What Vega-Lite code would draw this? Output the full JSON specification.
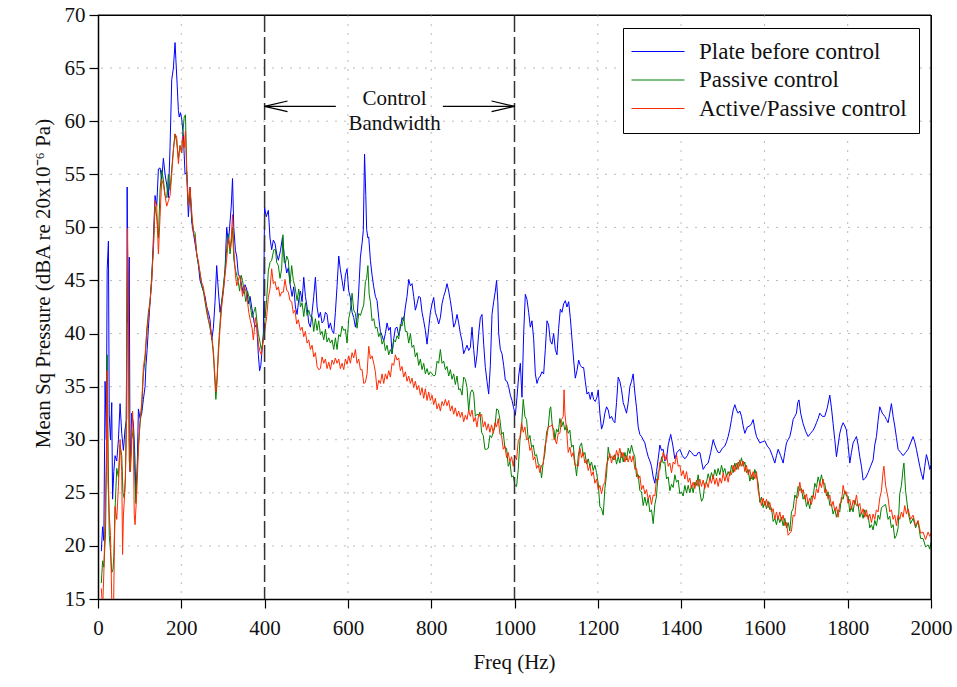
{
"$schema": "https://vega.github.io/schema/vega-lite/v6.json",
"width": 833, "height": 584,
"autosize": "none",
"padding": {"left": 98, "top": 15, "right": 26, "bottom": 88},
"background": "white",
"config": {"view": {"stroke": "black", "strokeWidth": 1}, "font": "Liberation Serif"},
"datasets": {
"blue": [{"f":8,"v":19.5},{"f":11,"v":21.8},{"f":14,"v":20.5},{"f":17,"v":35.5},{"f":20,"v":30},{"f":22,"v":46},{"f":25,"v":48.7},{"f":27,"v":32.4},{"f":30,"v":30},{"f":33,"v":33.5},{"f":35,"v":24.4},{"f":38,"v":27},{"f":41,"v":28.5},{"f":45,"v":28},{"f":49,"v":30},{"f":53,"v":33.4},{"f":57,"v":30.6},{"f":61,"v":29},{"f":65,"v":31},{"f":69,"v":32},{"f":70,"v":53.8},{"f":72,"v":41},{"f":75,"v":47.2},{"f":77,"v":27},{"f":81,"v":32.5},{"f":85,"v":31.5},{"f":88,"v":29},{"f":91,"v":25},{"f":94,"v":27},{"f":97,"v":32.9},{"f":101,"v":32},{"f":105,"v":32.5},{"f":109,"v":33.8},{"f":113,"v":35},{"f":115,"v":36.9},{"f":118,"v":38.5},{"f":121,"v":40.5},{"f":125,"v":43},{"f":129,"v":45},{"f":133,"v":49},{"f":137,"v":53},{"f":141,"v":52},{"f":145,"v":55.5},{"f":149,"v":55.6},{"f":153,"v":54.5},{"f":157,"v":56.5},{"f":161,"v":55},{"f":165,"v":54},{"f":169,"v":52.8},{"f":173,"v":57.6},{"f":177,"v":63.9},{"f":181,"v":65},{"f":185,"v":67.4},{"f":187,"v":65.8},{"f":190,"v":63.5},{"f":193,"v":61},{"f":195,"v":60.4},{"f":198,"v":60.8},{"f":201,"v":60.2},{"f":205,"v":58.6},{"f":209,"v":55},{"f":213,"v":55.2},{"f":217,"v":51},{"f":221,"v":53.8},{"f":225,"v":50.5},{"f":229,"v":49.5},{"f":233,"v":48.5},{"f":237,"v":47.5},{"f":241,"v":46.5},{"f":245,"v":45},{"f":249,"v":44.5},{"f":253,"v":44},{"f":257,"v":43.5},{"f":261,"v":42.5},{"f":265,"v":42},{"f":269,"v":41.3},{"f":273,"v":39.4},{"f":277,"v":40.5},{"f":281,"v":43},{"f":285,"v":46.4},{"f":289,"v":44},{"f":293,"v":42},{"f":297,"v":43},{"f":301,"v":44},{"f":305,"v":46},{"f":309,"v":50},{"f":313,"v":48.5},{"f":317,"v":50.5},{"f":320,"v":52},{"f":323,"v":54.6},{"f":326,"v":50},{"f":330,"v":47.8},{"f":333,"v":47.3},{"f":337,"v":45.5},{"f":341,"v":45.4},{"f":345,"v":44.5},{"f":349,"v":43.8},{"f":353,"v":44.6},{"f":357,"v":44.2},{"f":361,"v":42.8},{"f":365,"v":43.5},{"f":369,"v":42.5},{"f":373,"v":41.5},{"f":377,"v":40.6},{"f":381,"v":40.9},{"f":385,"v":38},{"f":388,"v":36.5},{"f":391,"v":37},{"f":394,"v":38.5},{"f":397,"v":40},{"f":400,"v":51.9},{"f":404,"v":51},{"f":409,"v":51.6},{"f":413,"v":49},{"f":417,"v":47.9},{"f":421,"v":48.8},{"f":425,"v":48.5},{"f":429,"v":47.5},{"f":433,"v":46.9},{"f":438,"v":47.8},{"f":443,"v":49.1},{"f":448,"v":47},{"f":453,"v":45.7},{"f":457,"v":46.2},{"f":461,"v":44.7},{"f":466,"v":43.5},{"f":470,"v":44.4},{"f":474,"v":42.5},{"f":478,"v":41.8},{"f":482,"v":43.2},{"f":486,"v":44},{"f":490,"v":43},{"f":494,"v":45.3},{"f":498,"v":43.5},{"f":502,"v":42.5},{"f":506,"v":41},{"f":510,"v":40.6},{"f":514,"v":42},{"f":518,"v":43.5},{"f":522,"v":45.3},{"f":526,"v":42.5},{"f":530,"v":41.5},{"f":534,"v":42},{"f":538,"v":41},{"f":542,"v":41.2},{"f":546,"v":42},{"f":550,"v":41.8},{"f":554,"v":40.5},{"f":558,"v":41},{"f":562,"v":40.3},{"f":566,"v":40},{"f":570,"v":42},{"f":574,"v":44.5},{"f":578,"v":47.3},{"f":582,"v":46},{"f":586,"v":45},{"f":590,"v":44},{"f":594,"v":45.5},{"f":598,"v":46.1},{"f":602,"v":44},{"f":606,"v":43.4},{"f":610,"v":42},{"f":614,"v":41.5},{"f":618,"v":40.6},{"f":622,"v":41.5},{"f":626,"v":44},{"f":630,"v":47.2},{"f":634,"v":48.5},{"f":637,"v":49.7},{"f":640,"v":56.9},{"f":643,"v":53},{"f":645,"v":49.8},{"f":648,"v":49},{"f":650,"v":49.1},{"f":654,"v":46.9},{"f":658,"v":45.5},{"f":662,"v":44.4},{"f":666,"v":43.5},{"f":670,"v":43.1},{"f":674,"v":41.5},{"f":678,"v":40.2},{"f":682,"v":39.8},{"f":686,"v":39.3},{"f":690,"v":40},{"f":694,"v":41},{"f":698,"v":40.3},{"f":702,"v":40.6},{"f":706,"v":38.1},{"f":710,"v":39.5},{"f":714,"v":40.5},{"f":718,"v":40.6},{"f":722,"v":39.8},{"f":726,"v":40.5},{"f":730,"v":41.5},{"f":734,"v":41.2},{"f":738,"v":42.5},{"f":742,"v":43.5},{"f":746,"v":45.1},{"f":750,"v":44.5},{"f":754,"v":44.7},{"f":758,"v":43.5},{"f":762,"v":42.2},{"f":766,"v":42.8},{"f":770,"v":43.5},{"f":774,"v":43.4},{"f":778,"v":42},{"f":782,"v":41.2},{"f":786,"v":40.3},{"f":790,"v":39},{"f":794,"v":40.5},{"f":798,"v":42},{"f":802,"v":42.8},{"f":806,"v":43.4},{"f":810,"v":42},{"f":814,"v":41.5},{"f":818,"v":40.9},{"f":822,"v":41.5},{"f":826,"v":42.8},{"f":830,"v":43.5},{"f":834,"v":44},{"f":838,"v":44.7},{"f":842,"v":44},{"f":846,"v":43.1},{"f":850,"v":42},{"f":854,"v":40.6},{"f":858,"v":41},{"f":862,"v":41.8},{"f":866,"v":41},{"f":870,"v":40},{"f":874,"v":39.3},{"f":878,"v":38.1},{"f":882,"v":38.5},{"f":886,"v":38.9},{"f":890,"v":38.4},{"f":894,"v":38.7},{"f":898,"v":40.6},{"f":902,"v":38.5},{"f":906,"v":36.8},{"f":910,"v":38},{"f":914,"v":40},{"f":918,"v":41.5},{"f":922,"v":41.8},{"f":926,"v":39},{"f":930,"v":36.8},{"f":934,"v":35.5},{"f":938,"v":34.3},{"f":942,"v":37},{"f":946,"v":41.8},{"f":950,"v":43},{"f":954,"v":44},{"f":957,"v":45},{"f":960,"v":43},{"f":962,"v":40},{"f":966,"v":38.5},{"f":970,"v":38.1},{"f":974,"v":37},{"f":978,"v":35.6},{"f":982,"v":35.5},{"f":986,"v":35},{"f":990,"v":34.2},{"f":994,"v":33.7},{"f":998,"v":33},{"f":1002,"v":32.3},{"f":1006,"v":34},{"f":1010,"v":36},{"f":1014,"v":37.2},{"f":1018,"v":34},{"f":1022,"v":40},{"f":1026,"v":43.7},{"f":1030,"v":43.2},{"f":1034,"v":42},{"f":1038,"v":40.6},{"f":1042,"v":41.2},{"f":1046,"v":39.5},{"f":1050,"v":36.2},{"f":1054,"v":35.3},{"f":1058,"v":35.8},{"f":1062,"v":36},{"f":1066,"v":36.4},{"f":1070,"v":36.2},{"f":1074,"v":38.5},{"f":1078,"v":41.2},{"f":1082,"v":40.8},{"f":1086,"v":39.3},{"f":1090,"v":39},{"f":1094,"v":40},{"f":1098,"v":38.5},{"f":1102,"v":38},{"f":1106,"v":40.5},{"f":1110,"v":42.3},{"f":1114,"v":42},{"f":1118,"v":42.8},{"f":1122,"v":43.1},{"f":1126,"v":42.5},{"f":1130,"v":43},{"f":1134,"v":41.5},{"f":1138,"v":39.5},{"f":1142,"v":37.5},{"f":1146,"v":35.8},{"f":1150,"v":36.5},{"f":1154,"v":37.5},{"f":1158,"v":37},{"f":1162,"v":36.8},{"f":1166,"v":36.8},{"f":1170,"v":35.5},{"f":1174,"v":34.3},{"f":1178,"v":34.5},{"f":1182,"v":33.8},{"f":1186,"v":34.5},{"f":1190,"v":33.8},{"f":1194,"v":33.6},{"f":1198,"v":34},{"f":1201,"v":34.7},{"f":1205,"v":32.5},{"f":1209,"v":31},{"f":1213,"v":31.5},{"f":1217,"v":32.5},{"f":1221,"v":33.1},{"f":1225,"v":32.8},{"f":1229,"v":32},{"f":1233,"v":32.2},{"f":1237,"v":31.8},{"f":1241,"v":31.6},{"f":1245,"v":33.5},{"f":1249,"v":35.9},{"f":1253,"v":35.5},{"f":1257,"v":34.7},{"f":1261,"v":33.5},{"f":1265,"v":33},{"f":1269,"v":32.5},{"f":1273,"v":33.5},{"f":1277,"v":35},{"f":1281,"v":35.5},{"f":1285,"v":36.2},{"f":1289,"v":34.4},{"f":1293,"v":33},{"f":1297,"v":31.2},{"f":1301,"v":30.5},{"f":1305,"v":30.3},{"f":1309,"v":30},{"f":1313,"v":29.7},{"f":1317,"v":29},{"f":1321,"v":28.4},{"f":1325,"v":28},{"f":1329,"v":27.5},{"f":1333,"v":26.5},{"f":1337,"v":25.9},{"f":1341,"v":27},{"f":1345,"v":28.2},{"f":1349,"v":29.5},{"f":1353,"v":29},{"f":1357,"v":29.1},{"f":1361,"v":28},{"f":1365,"v":28.2},{"f":1369,"v":29.5},{"f":1375,"v":30.5},{"f":1380,"v":29.5},{"f":1385,"v":28.2},{"f":1390,"v":28.8},{"f":1397,"v":29.1},{"f":1403,"v":28.5},{"f":1409,"v":28.2},{"f":1415,"v":28.5},{"f":1420,"v":29},{"f":1425,"v":28.8},{"f":1431,"v":28.5},{"f":1437,"v":28.5},{"f":1441,"v":28.8},{"f":1445,"v":28.8},{"f":1449,"v":28},{"f":1453,"v":27.2},{"f":1459,"v":27.6},{"f":1465,"v":27.8},{"f":1471,"v":28.8},{"f":1477,"v":30},{"f":1481,"v":29.5},{"f":1485,"v":29.1},{"f":1489,"v":28.8},{"f":1493,"v":28.8},{"f":1499,"v":29.2},{"f":1505,"v":29.4},{"f":1509,"v":29.8},{"f":1513,"v":30.3},{"f":1517,"v":31},{"f":1521,"v":31.9},{"f":1525,"v":32.8},{"f":1529,"v":33.3},{"f":1533,"v":32.8},{"f":1537,"v":32.5},{"f":1541,"v":32.7},{"f":1545,"v":32.2},{"f":1549,"v":31.3},{"f":1553,"v":30.6},{"f":1559,"v":31.2},{"f":1565,"v":31.3},{"f":1569,"v":31.5},{"f":1573,"v":31.9},{"f":1577,"v":31},{"f":1581,"v":30.3},{"f":1585,"v":30},{"f":1589,"v":29.7},{"f":1595,"v":29.8},{"f":1601,"v":29.9},{"f":1607,"v":29.4},{"f":1613,"v":29.1},{"f":1619,"v":28.5},{"f":1625,"v":27.8},{"f":1629,"v":28.5},{"f":1633,"v":29.1},{"f":1639,"v":28.5},{"f":1645,"v":27.8},{"f":1649,"v":28.8},{"f":1653,"v":29.7},{"f":1657,"v":30},{"f":1661,"v":30.3},{"f":1665,"v":31},{"f":1669,"v":31.9},{"f":1673,"v":32.2},{"f":1677,"v":32.5},{"f":1680,"v":33.5},{"f":1683,"v":33.75},{"f":1687,"v":32.5},{"f":1693,"v":31.5},{"f":1699,"v":30.8},{"f":1705,"v":30.3},{"f":1711,"v":30.6},{"f":1717,"v":30.9},{"f":1721,"v":31.2},{"f":1725,"v":31.6},{"f":1729,"v":32},{"f":1733,"v":32.5},{"f":1739,"v":32.2},{"f":1745,"v":32.2},{"f":1751,"v":33},{"f":1757,"v":34.2},{"f":1761,"v":33},{"f":1765,"v":31.5},{"f":1769,"v":30},{"f":1773,"v":28.4},{"f":1777,"v":29.5},{"f":1781,"v":30.6},{"f":1785,"v":31.2},{"f":1789,"v":31.6},{"f":1793,"v":31.3},{"f":1797,"v":30.9},{"f":1801,"v":29.5},{"f":1805,"v":27.8},{"f":1809,"v":28.8},{"f":1813,"v":29.7},{"f":1817,"v":30},{"f":1821,"v":30.3},{"f":1825,"v":29.5},{"f":1829,"v":28.4},{"f":1833,"v":27.5},{"f":1837,"v":26.2},{"f":1843,"v":26.4},{"f":1849,"v":26.9},{"f":1855,"v":27.5},{"f":1861,"v":28.1},{"f":1865,"v":29.5},{"f":1869,"v":30.3},{"f":1873,"v":31.8},{"f":1877,"v":33.1},{"f":1883,"v":32.5},{"f":1889,"v":32.2},{"f":1893,"v":31.9},{"f":1897,"v":31.6},{"f":1901,"v":32.5},{"f":1905,"v":33.4},{"f":1909,"v":32.2},{"f":1913,"v":31.3},{"f":1917,"v":30.2},{"f":1921,"v":29.1},{"f":1927,"v":28.8},{"f":1933,"v":28.5},{"f":1939,"v":28.8},{"f":1945,"v":29.1},{"f":1951,"v":29.7},{"f":1957,"v":30.3},{"f":1961,"v":29.8},{"f":1965,"v":29.1},{"f":1969,"v":28.3},{"f":1973,"v":27.5},{"f":1977,"v":26.8},{"f":1981,"v":26.25},{"f":1985,"v":27.5},{"f":1989,"v":28.6},{"f":1993,"v":28},{"f":1997,"v":27.2},{"f":2000,"v":27.6}],
"green": [{"f":8,"v":16.5},{"f":11,"v":18.6},{"f":14,"v":18},{"f":18,"v":21.1},{"f":20,"v":27},{"f":22,"v":38},{"f":24,"v":30},{"f":27,"v":21},{"f":30,"v":19.5},{"f":33,"v":17.5},{"f":36,"v":17.8},{"f":38,"v":19},{"f":41,"v":23.5},{"f":45,"v":27.3},{"f":49,"v":26.5},{"f":53,"v":29.5},{"f":57,"v":28.5},{"f":60,"v":25},{"f":63,"v":24.5},{"f":66,"v":26.5},{"f":69,"v":38},{"f":71,"v":47},{"f":73,"v":40},{"f":75,"v":28},{"f":78,"v":27},{"f":81,"v":30},{"f":85,"v":31},{"f":88,"v":27},{"f":91,"v":24},{"f":93,"v":26.5},{"f":97,"v":29.5},{"f":101,"v":31.5},{"f":105,"v":33},{"f":109,"v":36.2},{"f":113,"v":37.5},{"f":117,"v":40.3},{"f":121,"v":42},{"f":125,"v":43},{"f":129,"v":45.5},{"f":133,"v":48},{"f":137,"v":52},{"f":141,"v":51},{"f":145,"v":49},{"f":149,"v":53.5},{"f":153,"v":55.4},{"f":157,"v":54.5},{"f":161,"v":53},{"f":165,"v":52.8},{"f":169,"v":55},{"f":173,"v":53.5},{"f":177,"v":55.5},{"f":181,"v":57.3},{"f":185,"v":58.8},{"f":189,"v":58},{"f":193,"v":56.5},{"f":197,"v":57.7},{"f":201,"v":57},{"f":203,"v":58.6},{"f":207,"v":60.4},{"f":210,"v":60.6},{"f":213,"v":55.5},{"f":217,"v":52},{"f":221,"v":53.5},{"f":225,"v":51},{"f":229,"v":49.7},{"f":233,"v":49.5},{"f":237,"v":47.5},{"f":241,"v":46.5},{"f":245,"v":45.7},{"f":249,"v":44.5},{"f":253,"v":44},{"f":257,"v":43},{"f":261,"v":42},{"f":265,"v":41.3},{"f":269,"v":40.5},{"f":273,"v":39.7},{"f":277,"v":38},{"f":280,"v":36},{"f":283,"v":33.8},{"f":286,"v":35.5},{"f":289,"v":38.5},{"f":293,"v":41},{"f":297,"v":43},{"f":301,"v":44.5},{"f":305,"v":46},{"f":309,"v":48},{"f":313,"v":49.4},{"f":317,"v":47.5},{"f":320,"v":48.5},{"f":323,"v":50},{"f":326,"v":47},{"f":330,"v":46},{"f":333,"v":45.5},{"f":337,"v":44.8},{"f":340,"v":44},{"f":344,"v":45.5},{"f":347,"v":45},{"f":351,"v":44},{"f":355,"v":43},{"f":359,"v":44},{"f":362,"v":43.5},{"f":366,"v":42.5},{"f":370,"v":41.5},{"f":374,"v":42},{"f":378,"v":42.5},{"f":382,"v":41},{"f":385,"v":40},{"f":389,"v":39.2},{"f":392,"v":38.5},{"f":395,"v":39},{"f":398,"v":40},{"f":401,"v":41.4},{"f":405,"v":43.2},{"f":409,"v":45.9},{"f":413,"v":46.7},{"f":417,"v":46.9},{"f":422,"v":47.9},{"f":426,"v":47.9},{"f":429,"v":46.7},{"f":433,"v":46.4},{"f":437,"v":45.2},{"f":441,"v":46.1},{"f":444,"v":49.3},{"f":447,"v":46.7},{"f":450,"v":46.6},{"f":453,"v":47.3},{"f":457,"v":46.9},{"f":461,"v":44.7},{"f":465,"v":46.4},{"f":469,"v":45},{"f":473,"v":44.4},{"f":478,"v":43.1},{"f":482,"v":44.2},{"f":486,"v":42.5},{"f":490,"v":42.9},{"f":494,"v":41.6},{"f":498,"v":42.9},{"f":502,"v":41.7},{"f":506,"v":42.2},{"f":510,"v":41.6},{"f":514,"v":41.6},{"f":518,"v":40.2},{"f":522,"v":41.4},{"f":526,"v":40.3},{"f":530,"v":41.2},{"f":534,"v":39.9},{"f":538,"v":40.2},{"f":542,"v":39.4},{"f":546,"v":40.4},{"f":550,"v":39.2},{"f":554,"v":39.6},{"f":558,"v":39.1},{"f":562,"v":39.4},{"f":566,"v":38.5},{"f":570,"v":39.6},{"f":574,"v":38.5},{"f":578,"v":39.9},{"f":582,"v":39.7},{"f":586,"v":40.7},{"f":590,"v":40.3},{"f":594,"v":40.4},{"f":598,"v":39.1},{"f":602,"v":41.4},{"f":606,"v":42.2},{"f":610,"v":43.8},{"f":614,"v":42.2},{"f":618,"v":41.9},{"f":622,"v":40.5},{"f":626,"v":41.9},{"f":630,"v":41.7},{"f":634,"v":42.2},{"f":638,"v":42.7},{"f":642,"v":44.9},{"f":645,"v":45.2},{"f":648,"v":46.4},{"f":651,"v":43.7},{"f":654,"v":43},{"f":658,"v":41.2},{"f":662,"v":41.4},{"f":666,"v":40.5},{"f":670,"v":40.6},{"f":674,"v":39.7},{"f":678,"v":40.1},{"f":682,"v":39},{"f":686,"v":39.4},{"f":690,"v":38.4},{"f":694,"v":38.9},{"f":698,"v":38},{"f":702,"v":38.5},{"f":706,"v":38.1},{"f":710,"v":39.4},{"f":714,"v":39.2},{"f":718,"v":39.8},{"f":722,"v":39.5},{"f":726,"v":40.9},{"f":730,"v":40.7},{"f":734,"v":41.6},{"f":738,"v":40.2},{"f":742,"v":40.2},{"f":746,"v":39.1},{"f":750,"v":40},{"f":754,"v":38.7},{"f":758,"v":38.9},{"f":762,"v":37.8},{"f":766,"v":38.2},{"f":770,"v":37},{"f":774,"v":37.6},{"f":778,"v":36.6},{"f":782,"v":37.2},{"f":786,"v":36.2},{"f":790,"v":36.7},{"f":794,"v":36.1},{"f":798,"v":36.4},{"f":802,"v":36.2},{"f":806,"v":36},{"f":810,"v":36.1},{"f":814,"v":37.4},{"f":818,"v":37.2},{"f":822,"v":38.5},{"f":826,"v":37.2},{"f":830,"v":37.4},{"f":834,"v":36.6},{"f":838,"v":36.9},{"f":842,"v":36},{"f":846,"v":36.6},{"f":850,"v":35.7},{"f":854,"v":36.2},{"f":858,"v":35.2},{"f":862,"v":36},{"f":866,"v":34.7},{"f":870,"v":34.8},{"f":874,"v":34.2},{"f":878,"v":35.9},{"f":882,"v":35.7},{"f":886,"v":34.9},{"f":890,"v":32.7},{"f":894,"v":34.4},{"f":898,"v":34.7},{"f":902,"v":34.4},{"f":906,"v":32.2},{"f":910,"v":32.4},{"f":914,"v":32.3},{"f":917,"v":32.6},{"f":921,"v":30.7},{"f":925,"v":30.4},{"f":929,"v":29.1},{"f":933,"v":29.1},{"f":937,"v":29.2},{"f":941,"v":30.4},{"f":945,"v":30.2},{"f":949,"v":30.7},{"f":953,"v":31.2},{"f":957,"v":32.9},{"f":961,"v":32.8},{"f":965,"v":31.9},{"f":969,"v":30.5},{"f":973,"v":30.7},{"f":977,"v":29.2},{"f":981,"v":29.2},{"f":985,"v":27.5},{"f":989,"v":27.9},{"f":993,"v":26.5},{"f":997,"v":26.6},{"f":1001,"v":25.7},{"f":1005,"v":25.6},{"f":1009,"v":27.2},{"f":1013,"v":29.9},{"f":1017,"v":31.3},{"f":1021,"v":33.8},{"f":1025,"v":32.2},{"f":1029,"v":31.9},{"f":1033,"v":30},{"f":1037,"v":30.4},{"f":1041,"v":29.3},{"f":1045,"v":29.5},{"f":1049,"v":28.5},{"f":1053,"v":28.6},{"f":1057,"v":27.7},{"f":1061,"v":27.6},{"f":1065,"v":26.4},{"f":1069,"v":27.9},{"f":1073,"v":28.7},{"f":1077,"v":30.7},{"f":1081,"v":31.2},{"f":1085,"v":32.9},{"f":1087,"v":33.1},{"f":1091,"v":31.2},{"f":1095,"v":30.9},{"f":1097,"v":30},{"f":1101,"v":31},{"f":1105,"v":30.7},{"f":1109,"v":32},{"f":1113,"v":31.2},{"f":1117,"v":31.7},{"f":1121,"v":30.9},{"f":1125,"v":31.4},{"f":1129,"v":30.6},{"f":1133,"v":30.9},{"f":1137,"v":29.3},{"f":1141,"v":29.5},{"f":1145,"v":27.9},{"f":1149,"v":26.6},{"f":1153,"v":28.4},{"f":1157,"v":29.4},{"f":1161,"v":29.7},{"f":1165,"v":28.5},{"f":1169,"v":28.8},{"f":1173,"v":27.7},{"f":1177,"v":28.2},{"f":1181,"v":27.5},{"f":1185,"v":27.9},{"f":1189,"v":27.1},{"f":1193,"v":27.6},{"f":1197,"v":26.9},{"f":1201,"v":25.9},{"f":1205,"v":23.7},{"f":1209,"v":23.5},{"f":1213,"v":22.9},{"f":1217,"v":25.4},{"f":1221,"v":26.7},{"f":1225,"v":29.3},{"f":1229,"v":28.3},{"f":1233,"v":28.4},{"f":1237,"v":28.1},{"f":1241,"v":28.6},{"f":1245,"v":27.7},{"f":1249,"v":28.4},{"f":1253,"v":27.8},{"f":1257,"v":28.8},{"f":1261,"v":27.9},{"f":1265,"v":28.8},{"f":1269,"v":28.1},{"f":1273,"v":29.2},{"f":1277,"v":28.7},{"f":1281,"v":29.5},{"f":1285,"v":28.8},{"f":1289,"v":28.4},{"f":1293,"v":26.5},{"f":1297,"v":26.7},{"f":1301,"v":25.2},{"f":1305,"v":25.1},{"f":1309,"v":23.8},{"f":1313,"v":24.6},{"f":1317,"v":23.8},{"f":1321,"v":24.5},{"f":1325,"v":23.2},{"f":1329,"v":23.4},{"f":1333,"v":22.1},{"f":1337,"v":23.9},{"f":1341,"v":24.7},{"f":1345,"v":27},{"f":1349,"v":27.2},{"f":1353,"v":28.4},{"f":1357,"v":27.8},{"f":1361,"v":27.9},{"f":1365,"v":26.3},{"f":1369,"v":26.5},{"f":1373,"v":25.2},{"f":1377,"v":25.8},{"f":1381,"v":25.5},{"f":1385,"v":26.7},{"f":1389,"v":26},{"f":1393,"v":26.2},{"f":1397,"v":24.9},{"f":1401,"v":25.1},{"f":1405,"v":24.7},{"f":1409,"v":25.7},{"f":1413,"v":25},{"f":1417,"v":25.7},{"f":1421,"v":25},{"f":1425,"v":25.7},{"f":1429,"v":25},{"f":1433,"v":26},{"f":1437,"v":25.7},{"f":1441,"v":26.7},{"f":1445,"v":25.1},{"f":1449,"v":24.2},{"f":1453,"v":24.5},{"f":1457,"v":25.9},{"f":1461,"v":26},{"f":1465,"v":26.8},{"f":1469,"v":26.2},{"f":1473,"v":26.9},{"f":1477,"v":26.3},{"f":1481,"v":27.2},{"f":1485,"v":26.6},{"f":1489,"v":27.3},{"f":1493,"v":26.7},{"f":1497,"v":27.6},{"f":1501,"v":26.9},{"f":1505,"v":27.3},{"f":1509,"v":26.5},{"f":1513,"v":27},{"f":1517,"v":26.6},{"f":1521,"v":27.6},{"f":1525,"v":26.9},{"f":1529,"v":27.8},{"f":1533,"v":27.2},{"f":1537,"v":27.9},{"f":1541,"v":27.5},{"f":1545,"v":28.3},{"f":1549,"v":27.5},{"f":1553,"v":27.9},{"f":1557,"v":26.9},{"f":1561,"v":27.2},{"f":1565,"v":26.1},{"f":1569,"v":26.7},{"f":1573,"v":26.2},{"f":1577,"v":27.2},{"f":1581,"v":26.6},{"f":1585,"v":25.9},{"f":1589,"v":24.1},{"f":1593,"v":24.6},{"f":1597,"v":23.6},{"f":1601,"v":24.2},{"f":1605,"v":23.5},{"f":1609,"v":24.2},{"f":1613,"v":23.4},{"f":1617,"v":23.6},{"f":1621,"v":22.3},{"f":1625,"v":22.6},{"f":1629,"v":22},{"f":1633,"v":22.8},{"f":1637,"v":22.2},{"f":1641,"v":22.7},{"f":1645,"v":21.9},{"f":1649,"v":22.6},{"f":1653,"v":21.7},{"f":1657,"v":22.2},{"f":1661,"v":21.4},{"f":1665,"v":23.2},{"f":1669,"v":23.5},{"f":1673,"v":24.8},{"f":1677,"v":24.5},{"f":1681,"v":25.6},{"f":1685,"v":25.2},{"f":1689,"v":25.4},{"f":1693,"v":24.4},{"f":1697,"v":24.8},{"f":1701,"v":23.7},{"f":1705,"v":24.2},{"f":1709,"v":23.5},{"f":1713,"v":24.7},{"f":1717,"v":24.6},{"f":1721,"v":25.9},{"f":1725,"v":25.5},{"f":1729,"v":26.5},{"f":1733,"v":25.9},{"f":1737,"v":26.7},{"f":1741,"v":25.9},{"f":1745,"v":25.9},{"f":1749,"v":24.7},{"f":1753,"v":25.1},{"f":1757,"v":23.8},{"f":1761,"v":23.9},{"f":1765,"v":23},{"f":1769,"v":23.5},{"f":1773,"v":22.7},{"f":1777,"v":23.4},{"f":1781,"v":23.2},{"f":1785,"v":24.6},{"f":1789,"v":24.4},{"f":1793,"v":25.2},{"f":1797,"v":24.7},{"f":1801,"v":24.7},{"f":1805,"v":23.2},{"f":1809,"v":23.7},{"f":1813,"v":23.2},{"f":1817,"v":24.3},{"f":1821,"v":23.8},{"f":1825,"v":23.9},{"f":1829,"v":22.7},{"f":1833,"v":23.2},{"f":1837,"v":22.6},{"f":1841,"v":23.4},{"f":1845,"v":22.8},{"f":1849,"v":22.9},{"f":1853,"v":21.7},{"f":1857,"v":22},{"f":1861,"v":21.5},{"f":1865,"v":22.4},{"f":1869,"v":21.9},{"f":1873,"v":22.9},{"f":1877,"v":22.5},{"f":1881,"v":23.6},{"f":1887,"v":23.8},{"f":1891,"v":23.9},{"f":1897,"v":22.5},{"f":1901,"v":22.8},{"f":1905,"v":21.7},{"f":1909,"v":22},{"f":1913,"v":20.7},{"f":1917,"v":21},{"f":1921,"v":21.7},{"f":1925,"v":24.9},{"f":1929,"v":25.7},{"f":1933,"v":27.3},{"f":1935,"v":27.8},{"f":1939,"v":25.2},{"f":1945,"v":23.2},{"f":1951,"v":22.1},{"f":1957,"v":22.6},{"f":1963,"v":21.7},{"f":1969,"v":22.3},{"f":1975,"v":20.7},{"f":1981,"v":20.7},{"f":1987,"v":19.9},{"f":1993,"v":20.1},{"f":1997,"v":19.7},{"f":2000,"v":20.3}],
"red": [{"f":8,"v":16},{"f":11,"v":14},{"f":14,"v":17.4},{"f":18,"v":24.3},{"f":20,"v":28},{"f":22,"v":36.5},{"f":24,"v":26},{"f":27,"v":23},{"f":30,"v":21},{"f":32,"v":17},{"f":34,"v":13},{"f":37,"v":13},{"f":39,"v":19},{"f":41,"v":23.7},{"f":45,"v":22.5},{"f":49,"v":25.6},{"f":53,"v":30},{"f":57,"v":27},{"f":59,"v":19.2},{"f":61,"v":22.8},{"f":65,"v":25.6},{"f":68,"v":30},{"f":70,"v":44},{"f":71,"v":49.9},{"f":73,"v":42},{"f":75,"v":30},{"f":77,"v":27},{"f":80,"v":29.5},{"f":83,"v":32.7},{"f":85,"v":30},{"f":87,"v":22.9},{"f":89,"v":22},{"f":93,"v":25},{"f":97,"v":29},{"f":101,"v":31.9},{"f":105,"v":33.5},{"f":109,"v":36.8},{"f":113,"v":38},{"f":117,"v":40},{"f":121,"v":41.5},{"f":125,"v":43},{"f":129,"v":45},{"f":133,"v":48},{"f":137,"v":52.5},{"f":141,"v":52},{"f":145,"v":47.5},{"f":149,"v":51},{"f":153,"v":54.5},{"f":157,"v":54},{"f":161,"v":53},{"f":165,"v":52},{"f":169,"v":52.5},{"f":173,"v":53},{"f":177,"v":55},{"f":181,"v":57.3},{"f":185,"v":58.8},{"f":189,"v":58.5},{"f":193,"v":56},{"f":197,"v":57.7},{"f":201,"v":57},{"f":203,"v":58.6},{"f":207,"v":57.5},{"f":210,"v":59.1},{"f":213,"v":55.2},{"f":217,"v":52},{"f":221,"v":53.8},{"f":225,"v":51.5},{"f":229,"v":49.5},{"f":233,"v":49},{"f":237,"v":47.5},{"f":241,"v":46.8},{"f":245,"v":45.7},{"f":249,"v":44.8},{"f":253,"v":44.4},{"f":257,"v":43.2},{"f":261,"v":42.5},{"f":265,"v":41.3},{"f":269,"v":40.8},{"f":273,"v":39.7},{"f":277,"v":38.5},{"f":280,"v":36.5},{"f":283,"v":34.5},{"f":286,"v":36},{"f":289,"v":38},{"f":293,"v":40.5},{"f":297,"v":42.5},{"f":301,"v":44},{"f":305,"v":45.5},{"f":309,"v":47},{"f":313,"v":49},{"f":317,"v":48},{"f":320,"v":49},{"f":323,"v":51.2},{"f":326,"v":48},{"f":330,"v":45.5},{"f":333,"v":44.5},{"f":337,"v":45},{"f":340,"v":45.5},{"f":344,"v":44.5},{"f":347,"v":43.5},{"f":351,"v":44.5},{"f":355,"v":44},{"f":359,"v":43},{"f":362,"v":42},{"f":366,"v":41.2},{"f":370,"v":40.5},{"f":373,"v":39.4},{"f":378,"v":41.5},{"f":382,"v":40.5},{"f":385,"v":39},{"f":389,"v":38.3},{"f":392,"v":38},{"f":395,"v":38.8},{"f":398,"v":39.5},{"f":401,"v":40.4},{"f":405,"v":41.6},{"f":409,"v":43.4},{"f":413,"v":44.2},{"f":417,"v":46.1},{"f":421,"v":44.7},{"f":425,"v":44.9},{"f":429,"v":44.1},{"f":433,"v":44.4},{"f":437,"v":43.5},{"f":441,"v":43.9},{"f":445,"v":43.9},{"f":449,"v":45.1},{"f":453,"v":44.1},{"f":457,"v":43.9},{"f":461,"v":43.1},{"f":465,"v":43},{"f":469,"v":41.9},{"f":473,"v":42.2},{"f":477,"v":40.9},{"f":481,"v":41.3},{"f":486,"v":40.3},{"f":490,"v":40.6},{"f":494,"v":39.7},{"f":498,"v":40.2},{"f":502,"v":39.1},{"f":506,"v":39.4},{"f":510,"v":38.5},{"f":514,"v":38.9},{"f":518,"v":37.8},{"f":522,"v":38.2},{"f":526,"v":36.9},{"f":530,"v":36.6},{"f":534,"v":36.7},{"f":538,"v":37.8},{"f":542,"v":37.2},{"f":546,"v":37.6},{"f":550,"v":36.7},{"f":554,"v":37.3},{"f":558,"v":36.6},{"f":562,"v":37.5},{"f":566,"v":37.1},{"f":570,"v":37.7},{"f":574,"v":37.2},{"f":578,"v":37.6},{"f":582,"v":36.7},{"f":586,"v":37.2},{"f":590,"v":36.6},{"f":594,"v":37.6},{"f":598,"v":37.1},{"f":602,"v":37.9},{"f":606,"v":37.2},{"f":610,"v":38.2},{"f":614,"v":37.7},{"f":618,"v":38.5},{"f":622,"v":37.2},{"f":626,"v":37.6},{"f":630,"v":36.6},{"f":634,"v":36.6},{"f":638,"v":35.3},{"f":642,"v":35.4},{"f":646,"v":36.2},{"f":650,"v":38.8},{"f":654,"v":37.6},{"f":658,"v":37.9},{"f":662,"v":37.2},{"f":666,"v":36.4},{"f":670,"v":34.7},{"f":674,"v":35.6},{"f":678,"v":35.3},{"f":682,"v":36.2},{"f":686,"v":35.3},{"f":690,"v":36.2},{"f":694,"v":35.7},{"f":698,"v":36.5},{"f":702,"v":35.9},{"f":706,"v":37.2},{"f":710,"v":37},{"f":714,"v":38},{"f":718,"v":37.5},{"f":722,"v":37.7},{"f":726,"v":36.5},{"f":730,"v":36.9},{"f":734,"v":35.9},{"f":738,"v":36.4},{"f":742,"v":35.5},{"f":746,"v":36},{"f":750,"v":35.3},{"f":754,"v":35.8},{"f":758,"v":34.9},{"f":762,"v":35.5},{"f":766,"v":34.7},{"f":770,"v":35.1},{"f":774,"v":34.2},{"f":778,"v":34.9},{"f":782,"v":33.9},{"f":786,"v":34.8},{"f":790,"v":33.7},{"f":794,"v":34.5},{"f":798,"v":33.7},{"f":802,"v":34.2},{"f":806,"v":33.3},{"f":810,"v":33.9},{"f":814,"v":32.9},{"f":818,"v":33.4},{"f":822,"v":32.7},{"f":826,"v":33.6},{"f":830,"v":33.2},{"f":834,"v":33.8},{"f":838,"v":33.2},{"f":842,"v":33.7},{"f":846,"v":32.7},{"f":850,"v":33.2},{"f":854,"v":32.4},{"f":858,"v":33},{"f":862,"v":32.2},{"f":866,"v":32.7},{"f":870,"v":32.1},{"f":874,"v":32.6},{"f":878,"v":31.7},{"f":882,"v":32.3},{"f":886,"v":31.9},{"f":890,"v":32.8},{"f":894,"v":32.2},{"f":898,"v":32.8},{"f":902,"v":31.7},{"f":906,"v":32.1},{"f":910,"v":31.2},{"f":914,"v":32.4},{"f":917,"v":32.2},{"f":921,"v":32.4},{"f":925,"v":31.2},{"f":929,"v":31.7},{"f":933,"v":30.9},{"f":937,"v":31.5},{"f":941,"v":30.7},{"f":945,"v":31.4},{"f":949,"v":30.6},{"f":953,"v":31.6},{"f":957,"v":31.2},{"f":961,"v":32},{"f":965,"v":30.5},{"f":969,"v":30.4},{"f":973,"v":29.1},{"f":977,"v":29.4},{"f":981,"v":28.3},{"f":985,"v":28.8},{"f":989,"v":27.9},{"f":993,"v":28.4},{"f":997,"v":27.5},{"f":1001,"v":28.5},{"f":1005,"v":28.1},{"f":1009,"v":29.9},{"f":1013,"v":30.2},{"f":1017,"v":31.6},{"f":1021,"v":30.7},{"f":1025,"v":31.2},{"f":1029,"v":30},{"f":1033,"v":30.1},{"f":1037,"v":29},{"f":1041,"v":29.3},{"f":1045,"v":28.1},{"f":1049,"v":28.4},{"f":1053,"v":27.3},{"f":1057,"v":27.6},{"f":1061,"v":26.9},{"f":1065,"v":27.6},{"f":1069,"v":27.7},{"f":1073,"v":29.4},{"f":1077,"v":30},{"f":1081,"v":31.2},{"f":1087,"v":31.3},{"f":1091,"v":31.4},{"f":1095,"v":30},{"f":1097,"v":30.1},{"f":1101,"v":29.6},{"f":1105,"v":30.6},{"f":1109,"v":30.6},{"f":1113,"v":31.9},{"f":1117,"v":32.2},{"f":1119,"v":34.7},{"f":1121,"v":32.5},{"f":1125,"v":30.9},{"f":1129,"v":28.8},{"f":1133,"v":29.3},{"f":1137,"v":28.4},{"f":1141,"v":28.8},{"f":1145,"v":27.6},{"f":1149,"v":27.6},{"f":1153,"v":27.5},{"f":1157,"v":29.2},{"f":1161,"v":28.3},{"f":1165,"v":28.8},{"f":1169,"v":27.8},{"f":1173,"v":28.1},{"f":1177,"v":27.1},{"f":1181,"v":27.6},{"f":1185,"v":26.6},{"f":1189,"v":27},{"f":1193,"v":25.9},{"f":1197,"v":26.3},{"f":1201,"v":25.3},{"f":1205,"v":25.7},{"f":1209,"v":24.9},{"f":1213,"v":25.7},{"f":1217,"v":26},{"f":1221,"v":27.7},{"f":1225,"v":28.1},{"f":1229,"v":28.7},{"f":1233,"v":27.8},{"f":1237,"v":28.5},{"f":1241,"v":28.1},{"f":1245,"v":29},{"f":1249,"v":28.4},{"f":1253,"v":29.2},{"f":1257,"v":28.3},{"f":1261,"v":28.8},{"f":1265,"v":27.9},{"f":1269,"v":28.5},{"f":1273,"v":27.9},{"f":1277,"v":28.5},{"f":1281,"v":27.9},{"f":1285,"v":28.5},{"f":1289,"v":27.2},{"f":1293,"v":27.3},{"f":1297,"v":26.3},{"f":1301,"v":26.6},{"f":1305,"v":25.3},{"f":1309,"v":25.7},{"f":1313,"v":24.9},{"f":1317,"v":25.3},{"f":1321,"v":24.4},{"f":1325,"v":24.8},{"f":1329,"v":23.9},{"f":1333,"v":24.8},{"f":1337,"v":24.7},{"f":1341,"v":26.3},{"f":1345,"v":26.2},{"f":1349,"v":27.9},{"f":1353,"v":27.9},{"f":1357,"v":28.8},{"f":1361,"v":28.1},{"f":1365,"v":28.6},{"f":1369,"v":27.5},{"f":1373,"v":27.8},{"f":1377,"v":26.9},{"f":1381,"v":27.9},{"f":1385,"v":27.7},{"f":1389,"v":28.6},{"f":1393,"v":27.5},{"f":1397,"v":27.6},{"f":1401,"v":26.6},{"f":1405,"v":27.1},{"f":1409,"v":26.3},{"f":1413,"v":27},{"f":1417,"v":26},{"f":1421,"v":26.4},{"f":1425,"v":25.4},{"f":1429,"v":26},{"f":1433,"v":25.4},{"f":1437,"v":26.2},{"f":1441,"v":25.6},{"f":1445,"v":26.3},{"f":1449,"v":25.6},{"f":1453,"v":26.2},{"f":1457,"v":25.4},{"f":1461,"v":26},{"f":1465,"v":25.5},{"f":1469,"v":26.4},{"f":1473,"v":25.9},{"f":1477,"v":26.7},{"f":1481,"v":25.8},{"f":1485,"v":26.4},{"f":1489,"v":25.6},{"f":1493,"v":26.4},{"f":1497,"v":25.9},{"f":1501,"v":26.9},{"f":1505,"v":26.1},{"f":1509,"v":26.7},{"f":1513,"v":26},{"f":1517,"v":27},{"f":1521,"v":26.7},{"f":1525,"v":27.6},{"f":1529,"v":27},{"f":1533,"v":27.8},{"f":1537,"v":27.2},{"f":1541,"v":28.1},{"f":1545,"v":27.5},{"f":1549,"v":28},{"f":1553,"v":27},{"f":1557,"v":27.6},{"f":1561,"v":26.7},{"f":1565,"v":27.2},{"f":1569,"v":26.3},{"f":1573,"v":27},{"f":1577,"v":26.3},{"f":1581,"v":27},{"f":1585,"v":25.2},{"f":1589,"v":24.5},{"f":1593,"v":23.8},{"f":1597,"v":24.5},{"f":1601,"v":23.8},{"f":1605,"v":24.4},{"f":1609,"v":23.6},{"f":1613,"v":24.1},{"f":1617,"v":23.2},{"f":1621,"v":23.5},{"f":1625,"v":22.5},{"f":1629,"v":23.2},{"f":1633,"v":22.5},{"f":1637,"v":23.2},{"f":1641,"v":22.4},{"f":1645,"v":22.9},{"f":1649,"v":21.9},{"f":1653,"v":22.2},{"f":1657,"v":21},{"f":1661,"v":21.2},{"f":1665,"v":21.4},{"f":1669,"v":22.9},{"f":1673,"v":22.8},{"f":1677,"v":24.4},{"f":1681,"v":24.7},{"f":1685,"v":26},{"f":1689,"v":25},{"f":1693,"v":25.3},{"f":1697,"v":24.4},{"f":1701,"v":24.9},{"f":1705,"v":24},{"f":1709,"v":24.5},{"f":1713,"v":23.9},{"f":1717,"v":24.8},{"f":1721,"v":24.4},{"f":1725,"v":25.4},{"f":1729,"v":25},{"f":1733,"v":26},{"f":1737,"v":25.5},{"f":1741,"v":26.3},{"f":1745,"v":25},{"f":1749,"v":25.3},{"f":1753,"v":24.4},{"f":1757,"v":24.8},{"f":1761,"v":23.7},{"f":1765,"v":24.2},{"f":1769,"v":23.3},{"f":1773,"v":23.7},{"f":1777,"v":22.7},{"f":1781,"v":24},{"f":1785,"v":24.1},{"f":1789,"v":25.7},{"f":1793,"v":24.9},{"f":1797,"v":25.1},{"f":1801,"v":24},{"f":1805,"v":24.4},{"f":1809,"v":23.4},{"f":1813,"v":24.3},{"f":1817,"v":23.9},{"f":1821,"v":24.8},{"f":1825,"v":23.7},{"f":1829,"v":24},{"f":1833,"v":23},{"f":1837,"v":23.5},{"f":1841,"v":22.7},{"f":1845,"v":23.4},{"f":1849,"v":22.5},{"f":1853,"v":23},{"f":1857,"v":22.2},{"f":1861,"v":23},{"f":1865,"v":22.5},{"f":1869,"v":23.4},{"f":1873,"v":23.2},{"f":1877,"v":24.5},{"f":1881,"v":25.2},{"f":1885,"v":27},{"f":1887,"v":27.5},{"f":1891,"v":25.7},{"f":1897,"v":24.5},{"f":1901,"v":23.2},{"f":1905,"v":23.4},{"f":1909,"v":22.5},{"f":1913,"v":22.9},{"f":1917,"v":21.9},{"f":1921,"v":22.9},{"f":1925,"v":22.5},{"f":1929,"v":23.2},{"f":1933,"v":22.7},{"f":1937,"v":23.8},{"f":1941,"v":23},{"f":1945,"v":23.5},{"f":1951,"v":22.5},{"f":1957,"v":22.9},{"f":1963,"v":21.9},{"f":1969,"v":22.4},{"f":1975,"v":21.2},{"f":1981,"v":21.3},{"f":1987,"v":20.6},{"f":1993,"v":21.3},{"f":1997,"v":20.9},{"f":2000,"v":21.2}],
"gridX": [{"f":200},{"f":600},{"f":800},{"f":1200},{"f":1400},{"f":1600},{"f":1800}],
"gridY": [{"v":20},{"v":25},{"v":30},{"v":35},{"v":40},{"v":45},{"v":50},{"v":55},{"v":60},{"v":65}],
"bounds": [{"f":400},{"f":1000}],
"frameTop": [{"v":70}],
"frameRight": [{"f":2000}],
"arrows": [{"x":400,"y":61.4,"x2":571,"y2":61.4},{"x":828,"y":61.4,"x2":1000,"y2":61.4},{"x":400,"y":61.4,"x2":455,"y2":61.9},{"x":400,"y":61.4,"x2":455,"y2":60.9},{"x":1000,"y":61.4,"x2":945,"y2":61.9},{"x":1000,"y":61.4,"x2":945,"y2":60.9}],
"labels": [{"x":712,"y":62.1,"t":"Control"},{"x":712,"y":59.7,"t":"Bandwidth"}]
},
"layer": [
{"data": {"name": "gridX"}, "mark": {"type": "rule", "color": "#bbbbbb", "strokeWidth": 1, "strokeDash": [2, 7]},
 "encoding": {"x": {"field": "f", "type": "quantitative", "scale": {"domain": [0, 2000], "nice": false},
   "axis": {"title": "Freq (Hz)", "values": [0,200,400,600,800,1000,1200,1400,1600,1800,2000], "format": "d", "grid": false, "labelFont": "Liberation Serif", "labelFontSize": 21, "labelColor": "#111", "labelPadding": 9, "labelFlush": false, "tickSize": 9, "tickColor": "black", "tickWidth": 1.2, "domainColor": "black", "domainWidth": 1.5, "titleFont": "Liberation Serif", "titleFontSize": 21, "titleFontWeight": "normal", "titleColor": "#111", "titleX": 416, "titleY": 69, "titleBaseline": "alphabetic"}}}},
{"data": {"name": "gridY"}, "mark": {"type": "rule", "color": "#bbbbbb", "strokeWidth": 1, "strokeDash": [2, 7]},
 "encoding": {"y": {"field": "v", "type": "quantitative", "scale": {"domain": [15, 70], "nice": false, "zero": false},
   "axis": {"title": "Mean Sq Pressure (dBA re 20x10⁻⁶ Pa)", "values": [15,20,25,30,35,40,45,50,55,60,65,70], "grid": false, "labelFont": "Liberation Serif", "labelFontSize": 21, "labelColor": "#111", "labelPadding": 4, "tickSize": 9, "tickColor": "black", "tickWidth": 1.2, "domainColor": "black", "domainWidth": 1.5, "titleFont": "Liberation Serif", "titleFontSize": 21, "titleFontWeight": "normal", "titleColor": "#111", "titleX": -55, "titleY": 268, "titleAngle": -90, "titleAlign": "center", "titleBaseline": "middle"}}}},
{"data": {"name": "blue"}, "mark": {"type": "line", "strokeWidth": 1, "clip": true},
 "encoding": {
  "x": {"field": "f", "type": "quantitative"},
  "y": {"field": "v", "type": "quantitative"},
  "color": {"datum": "Plate before control", "type": "nominal",
   "scale": {"domain": ["Plate before control", "Passive control", "Active/Passive control"], "range": ["#0000ff", "#008000", "#ff2a00"]},
   "legend": {"orient": "none", "legendX": 525, "legendY": 13, "direction": "vertical", "title": null, "strokeColor": "black", "fillColor": "white", "padding": 12, "rowPadding": 4.5, "labelFont": "Liberation Serif", "labelFontSize": 23, "labelColor": "#111", "labelLimit": 400, "symbolType": "M-1.5,0H3.8", "symbolSize": 400, "symbolStrokeWidth": 1.2, "labelOffset": 41}}
 }},
{"data": {"name": "green"}, "mark": {"type": "line", "strokeWidth": 1, "clip": true},
 "encoding": {"x": {"field": "f", "type": "quantitative"}, "y": {"field": "v", "type": "quantitative"}, "color": {"datum": "Passive control", "type": "nominal"}}},
{"data": {"name": "red"}, "mark": {"type": "line", "strokeWidth": 1, "clip": true},
 "encoding": {"x": {"field": "f", "type": "quantitative"}, "y": {"field": "v", "type": "quantitative"}, "color": {"datum": "Active/Passive control", "type": "nominal"}}},
{"data": {"name": "bounds"}, "mark": {"type": "rule", "color": "#333333", "strokeWidth": 1.5, "strokeDash": [17, 5]},
 "encoding": {"x": {"field": "f", "type": "quantitative"}}},
{"data": {"name": "frameTop"}, "mark": {"type": "rule", "color": "black", "strokeWidth": 1},
 "encoding": {"y": {"field": "v", "type": "quantitative"}}},
{"data": {"name": "frameRight"}, "mark": {"type": "rule", "color": "black", "strokeWidth": 1.2},
 "encoding": {"x": {"field": "f", "type": "quantitative"}}},
{"data": {"name": "arrows"}, "mark": {"type": "rule", "color": "black", "strokeWidth": 1.2},
 "encoding": {"x": {"field": "x", "type": "quantitative"}, "x2": {"field": "x2"}, "y": {"field": "y", "type": "quantitative"}, "y2": {"field": "y2"}}},
{"data": {"name": "labels"}, "mark": {"type": "text", "font": "Liberation Serif", "fontSize": 21, "color": "#111", "align": "center", "baseline": "middle"},
 "encoding": {"x": {"field": "x", "type": "quantitative"}, "y": {"field": "y", "type": "quantitative"}, "text": {"field": "t"}}}
]
}
